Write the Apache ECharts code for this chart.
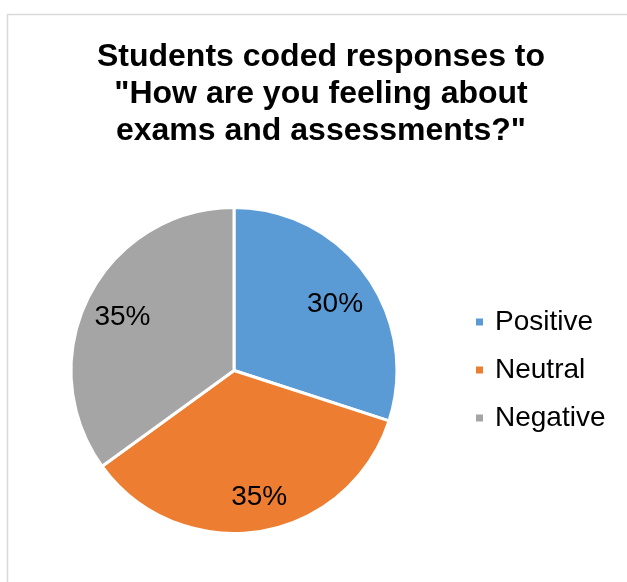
<!DOCTYPE html>
<html>
<head>
<meta charset="utf-8">
<script src="https://cdn.jsdelivr.net/npm/echarts@6/dist/echarts.min.js"></script>
<style>
  html, body { margin: 0; padding: 0; background: #ffffff; }
  #chart { width: 627px; height: 582px; }
</style>
</head>
<body>
<div id="chart"></div>
<script>
// Coded responses, in percent
const categories = ['Positive', 'Neutral', 'Negative'];
const shares = [30, 35, 35];
const sliceColors = ['#5b9bd5', '#ed7d31', '#a5a5a5'];
const titleText = 'Students coded responses to\n"How are you feeling about\nexams and assessments?"';

const FONT = 'Arial, "Liberation Sans", sans-serif';

// small hand placement tweaks for the percentage labels (px)
const labelNudge = [[1.5, 6], [6, 5], [-2, 3]];

const pieData = categories.map((name, i) => ({
  name: name,
  value: shares[i],
  itemStyle: { color: sliceColors[i] }
}));

const chart = echarts.init(document.getElementById('chart'), null, { renderer: 'canvas' });

chart.setOption({
  backgroundColor: '#ffffff',
  animation: false,
  title: {
    text: titleText,
    left: 321,
    textAlign: 'center',
    top: 39,
    padding: 0,
    textStyle: {
      fontFamily: FONT,
      fontSize: 32,
      fontWeight: 'bold',
      color: '#000000',
      lineHeight: 37
    }
  },
  legend: {
    orient: 'vertical',
    left: 474,
    top: 306,
    padding: 0,
    itemWidth: 9,
    itemHeight: 9,
    itemGap: 16,
    icon: 'rect',
    selectedMode: false,
    data: categories,
    textStyle: {
      fontFamily: FONT,
      fontSize: 28,
      color: '#000000',
      lineHeight: 32,
      padding: [0, 0, 0, 6]
    }
  },
  graphic: [{
    type: 'rect',
    silent: true,
    shape: { x: 7.5, y: 14.5, width: 800, height: 800 },
    style: { fill: 'none', stroke: '#d9d9d9', lineWidth: 1.5 }
  }],
  series: [
    {
      // slices
      type: 'pie',
      center: [234, 370.5],
      radius: [0, 163],
      startAngle: 90,
      clockwise: true,
      silent: true,
      label: { show: false },
      labelLine: { show: false },
      itemStyle: { borderColor: '#ffffff', borderWidth: 3 },
      data: pieData
    },
    {
      // percentage labels placed part-way out along each slice
      type: 'pie',
      center: [234, 370.5],
      radius: [78, 162],
      startAngle: 90,
      clockwise: true,
      silent: true,
      legendHoverLink: false,
      itemStyle: { color: 'rgba(0,0,0,0)' },
      label: {
        show: true,
        position: 'inside',
        formatter: '{c}%',
        fontFamily: FONT,
        fontSize: 28,
        color: '#000000'
      },
      labelLine: { show: false },
      data: categories.map((name, i) => ({
        name: name,
        value: shares[i],
        label: { offset: labelNudge[i] }
      }))
    }
  ]
});
</script>
</body>
</html>
